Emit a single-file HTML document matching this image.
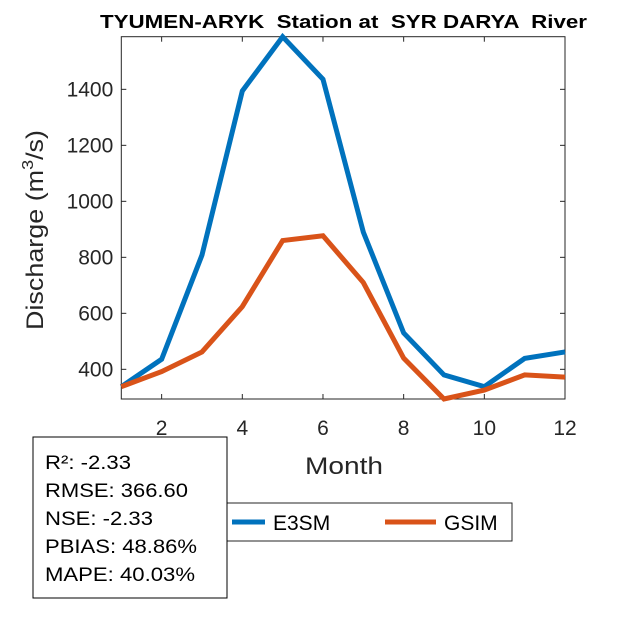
<!DOCTYPE html>
<html><head><meta charset="utf-8"><style>
body{margin:0;background:#fff}
svg text{font-family:"Liberation Sans",Arial,sans-serif}
</style></head><body>
<svg width="625" height="625" viewBox="0 0 625 625">
<rect width="625" height="625" fill="#fff"/>
<text x="100" y="28" font-size="18" font-weight="bold" fill="#000" textLength="487" lengthAdjust="spacingAndGlyphs" xml:space="preserve">TYUMEN-ARYK  Station at  SYR DARYA  River</text>
<g id="plot"></g>
<text x="305" y="474" font-size="24" fill="#262626" textLength="78" lengthAdjust="spacingAndGlyphs">Month</text>
<text transform="translate(43,330) rotate(-90)" font-size="24" fill="#262626" textLength="200" lengthAdjust="spacingAndGlyphs">Discharge (m<tspan font-size="16" dy="-10">3</tspan><tspan dy="10">/s)</tspan></text>
<g>
<rect x="223" y="503" width="289" height="38" fill="#fff" stroke="#262626" stroke-width="1"/>
<line x1="232" y1="522" x2="265" y2="522" stroke="#0072BD" stroke-width="5"/>
<text x="273" y="530" font-size="21" fill="#000">E3SM</text>
<line x1="385" y1="522" x2="436" y2="522" stroke="#D95319" stroke-width="5"/>
<text x="444" y="530" font-size="21" fill="#000">GSIM</text>
</g>
<g font-size="19.5" fill="#000">
<rect x="33" y="437" width="194" height="161" fill="#fff" stroke="#000" stroke-width="1"/>
<text x="45" y="469" textLength="86" lengthAdjust="spacingAndGlyphs">R²: -2.33</text>
<text x="45" y="497" textLength="143" lengthAdjust="spacingAndGlyphs">RMSE: 366.60</text>
<text x="45" y="525" textLength="108" lengthAdjust="spacingAndGlyphs">NSE: -2.33</text>
<text x="45" y="553" textLength="152" lengthAdjust="spacingAndGlyphs">PBIAS: 48.86%</text>
<text x="45" y="581" textLength="150" lengthAdjust="spacingAndGlyphs">MAPE: 40.03%</text>
</g>
</svg>
<script>
const months=[1,2,3,4,5,6,7,8,9,10,11,12];
const e3sm=[338,436,808,1394,1588,1436,890,530,380,338,439,462];
const gsim=[338,392,462,624,860,877,710,440,294,326,380,372];
const xTicks=[2,4,6,8,10,12];
const yTicks=[400,600,800,1000,1200,1400];
const L=121.3,R=565,T=36.7,B=399,xMin=1,xMax=12,yMin=294,yMax=1588;
const xs=v=>L+(v-xMin)/(xMax-xMin)*(R-L);
const ys=v=>B-(v-yMin)/(yMax-yMin)*(B-T);
const NS='http://www.w3.org/2000/svg';
const g=document.getElementById('plot');
function mk(t,a){const e=document.createElementNS(NS,t);for(const k in a)e.setAttribute(k,a[k]);g.appendChild(e);return e;}
const ax=mk('rect',{x:L,y:T,width:R-L,height:B-T,fill:'#fff',stroke:'#262626','stroke-width':1});


xTicks.forEach(v=>{const x=xs(v);
mk('line',{x1:x,y1:B,x2:x,y2:B-5,stroke:'#262626'});
mk('line',{x1:x,y1:T,x2:x,y2:T+5,stroke:'#262626'});
const t=mk('text',{x:x,y:B+36,'text-anchor':'middle','font-size':21,fill:'#262626'});t.textContent=v;

});
yTicks.forEach(v=>{const y=ys(v);
mk('line',{x1:L,y1:y,x2:L+5,y2:y,stroke:'#262626'});
mk('line',{x1:R,y1:y,x2:R-5,y2:y,stroke:'#262626'});
const t=mk('text',{x:L-8,y:y+7,'text-anchor':'end','font-size':21,fill:'#262626'});t.textContent=v;

});
function series(d,c,n){const p=mk('polyline',{points:d.map((v,i)=>xs(months[i])+','+ys(v)).join(' '),fill:'none',stroke:c,'stroke-width':5,'stroke-linejoin':'miter'});

}
series(e3sm,'#0072BD','line-e3sm');
series(gsim,'#D95319','line-gsim');
</script>
</body></html>
